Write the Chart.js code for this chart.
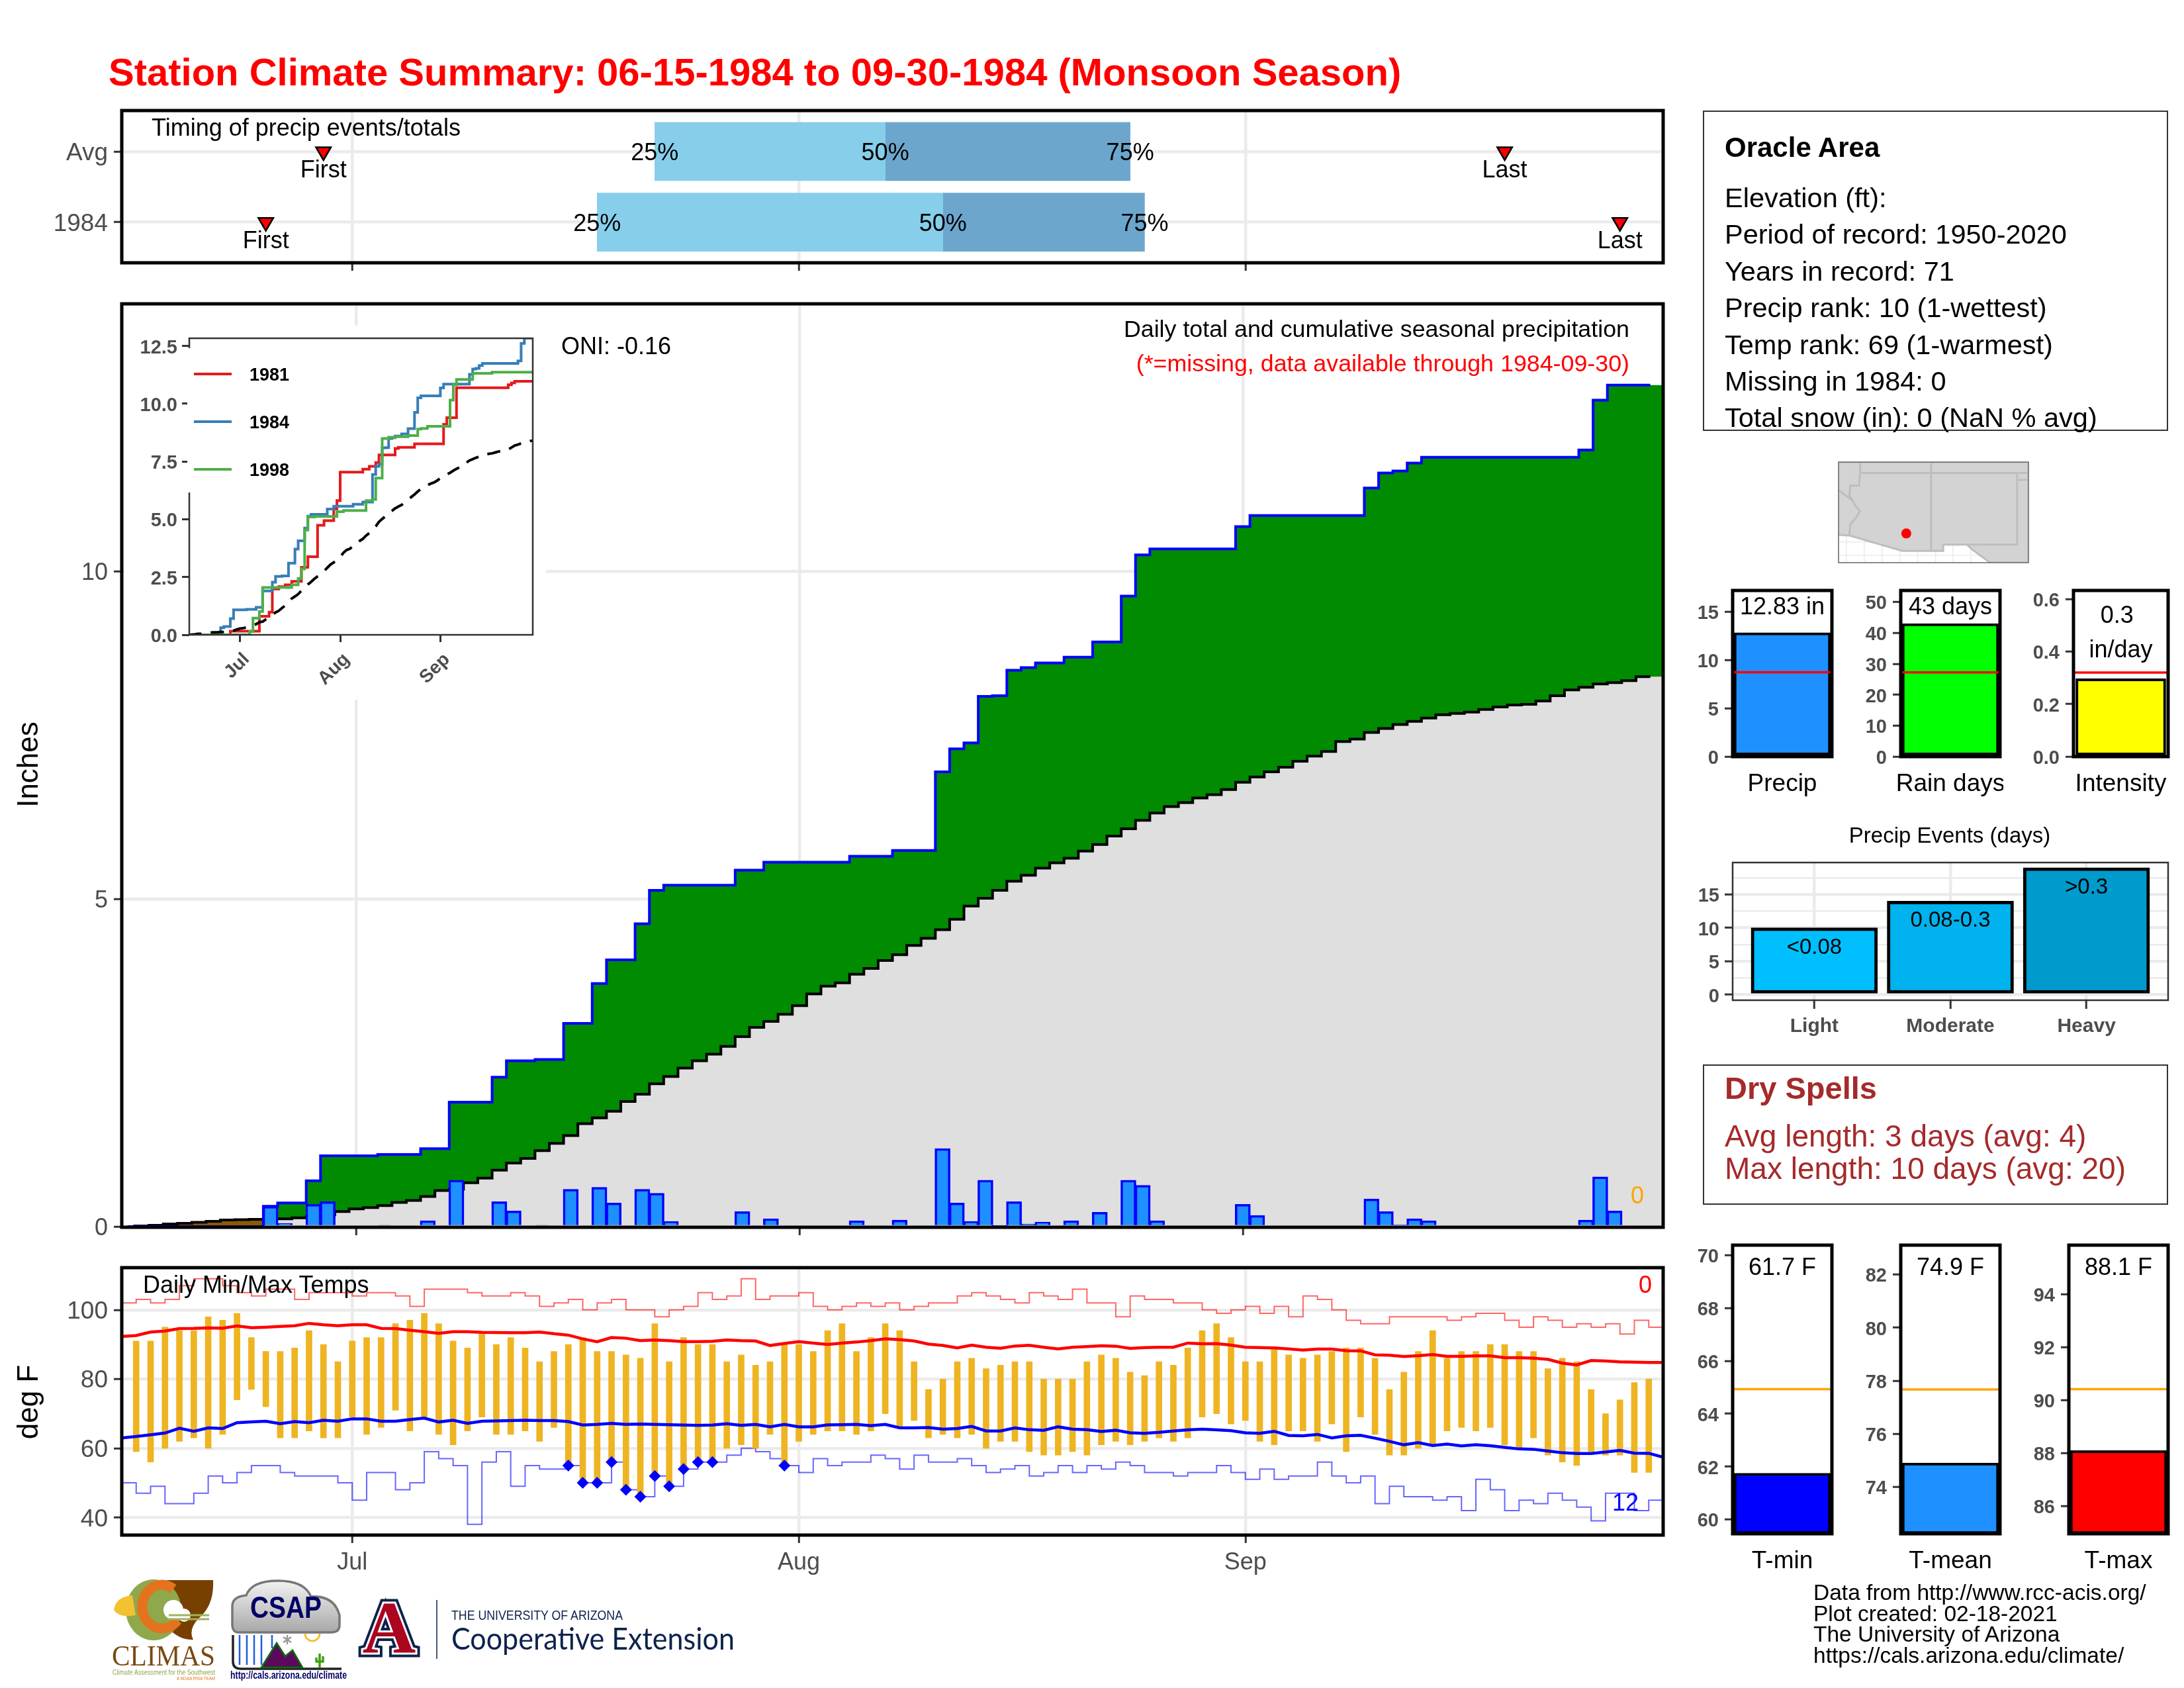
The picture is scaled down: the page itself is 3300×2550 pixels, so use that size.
<!DOCTYPE html>
<html>
<head>
<meta charset="utf-8">
<title>Station Climate Summary</title>
<script src="https://cdn.jsdelivr.net/npm/chart.js@4"></script>
<style>
  html, body { margin: 0; padding: 0; background: #fff; }
  #page { position: relative; width: 3300px; height: 2550px; overflow: hidden; font-family: 'Liberation Sans', Arial, sans-serif; }
  canvas { position: absolute; }
  .txt { position: absolute; white-space: nowrap; z-index: 3; line-height: 1; }
  .box { position: absolute; border: 2.5px solid #333; box-sizing: border-box; }
  svg { position: absolute; left: 0; top: 0; z-index: 2; }
</style>
</head>
<body>
<div id="page">
<svg width="3300" height="2550" font-family="Liberation Sans">
  <defs><linearGradient id="cloud" x1="0" y1="0" x2="0" y2="1"><stop offset="0" stop-color="#f2f2f2"/><stop offset="1" stop-color="#a8a8a8"/></linearGradient></defs>
  <!-- CLIMAS -->
  <path d="M252 2387 L322 2387 Q324 2425 300 2445 Q284 2462 292 2477 Q262 2478 240 2440 Z" fill="#774000"/>
  <ellipse cx="232" cy="2432" rx="42" ry="46" fill="#8FA84C"/>
  <path d="M172 2432 Q175 2412 200 2410 L205 2440 Q180 2445 172 2432 Z" fill="#F2C230"/>
  <path d="M262 2400 A30 33 0 1 0 268 2448" fill="none" stroke="#E3731E" stroke-width="15"/>
  <circle cx="262" cy="2432" r="15" fill="#fff"/><circle cx="278" cy="2440" r="10" fill="#fff"/>
  <path d="M255 2440 H316 M255 2446 H316" stroke="#9DB35E" stroke-width="3"/>
  <text x="169" y="2516" font-family="Liberation Serif" font-size="44" fill="#7A4A12" textLength="156" lengthAdjust="spacingAndGlyphs">CLIMAS</text>
  <text x="170" y="2530" font-size="11" fill="#8FA84C" textLength="155" lengthAdjust="spacingAndGlyphs">Climate Assessment for the Southwest</text>
  <text x="267" y="2538" font-size="8" fill="#E3731E" textLength="58" lengthAdjust="spacingAndGlyphs">A NOAA RISA TEAM</text>
  <!-- CSAP -->
  <path d="M360 2466 Q350 2466 351 2450 L351 2425 Q352 2412 372 2410 Q380 2388 420 2388 Q460 2388 470 2412 Q505 2410 513 2440 L513 2455 Q513 2466 500 2466 Z" fill="url(#cloud)" stroke="#777" stroke-width="3.5"/>
  <text x="432" y="2444" text-anchor="middle" font-weight="bold" font-size="46" fill="#000066" textLength="108" lengthAdjust="spacingAndGlyphs">CSAP</text>
  <path d="M362 2470 V2515 M373 2470 V2515 M384 2470 V2515 M395 2470 V2515 M411 2470 V2490" stroke="#1E5BE0" stroke-width="2.5"/>
  <path d="M352 2470 V2510 Q352 2521 364 2521 H516" fill="none" stroke="#222" stroke-width="3.5"/>
  <path d="M395 2519 L418 2482 L431 2502 L442 2493 L457 2519 Z" fill="#5B0A5B" stroke="#0A6E0A" stroke-width="2.5"/>
  <path d="M461 2468 A11 11 0 0 0 483 2468" fill="none" stroke="#F2C230" stroke-width="3"/>
  <path d="M434 2470 V2484 M428 2473 L440 2481 M440 2473 L428 2481" stroke="#999" stroke-width="2.5"/>
  <path d="M483 2498 V2519 M478 2504 V2510 H488 V2502" fill="none" stroke="#3DA010" stroke-width="3.5"/>
  <text x="348" y="2536" font-weight="bold" font-size="16" fill="#000066" textLength="176" lengthAdjust="spacingAndGlyphs">http://cals.arizona.edu/climate</text>
  <!-- Arizona -->
  <text x="588" y="2497" text-anchor="middle" font-family="Liberation Serif" font-weight="bold" font-size="112" fill="#0C234B" stroke="#0C234B" stroke-width="14">A</text>
  <text x="588" y="2497" text-anchor="middle" font-family="Liberation Serif" font-weight="bold" font-size="112" fill="#fff" stroke="#fff" stroke-width="6">A</text>
  <text x="588" y="2497" text-anchor="middle" font-family="Liberation Serif" font-weight="bold" font-size="112" fill="#AB0520">A</text>
  <path d="M660 2417 V2506" stroke="#0C234B" stroke-width="1.5"/>
  <text x="682" y="2447" font-size="20" fill="#0C234B" textLength="259" lengthAdjust="spacingAndGlyphs">THE UNIVERSITY OF ARIZONA</text>
  <text x="682" y="2492" font-family="Lato" font-size="46" fill="#0C234B" textLength="428" lengthAdjust="spacingAndGlyphs">Cooperative Extension</text>
</svg>
</div>
<script>
// day numbers: 0 is Jul 1, -16 is Jun 15, 90 is Sep 29
const monthDays = [0, 31, 62]
const monthNames = ['Jul', 'Aug', 'Sep']

const dailyPrecip = [
  0,0,0,0,0,0,0,0,0,0,
  .31,.05,0,.34,.38,0,0,0,.02,0,
  0,.09,0,.71,0,0,.38,.24,0,.02,
  0,.57,0,.60,.36,0,.57,.51,.08,0,
  0,0,0,.23,0,.12,0,0,0,0,
  0,.09,0,0,.10,0,0,1.19,.36,.08,
  .71,.01,.38,.04,.07,0,.09,0,.22,0,
  .71,.63,.09,0,0,0,0,0,.34,.17,
  0,0,0,0,0,0,0,.42,.23,.03,
  .12,.09,0,0,0,0,0,0,0,0,
  0,0,.10,.76,.24,0,0
]
const cumPrecip = [
  0,0,0,0,0,0,0,0,0,0,
  .31,.36,.36,.70,1.08,1.08,1.08,1.08,1.10,1.10,
  1.10,1.19,1.19,1.90,1.90,1.90,2.28,2.53,2.53,2.55,
  2.55,3.10,3.10,3.71,4.07,4.07,4.62,5.13,5.21,5.21,
  5.21,5.21,5.21,5.44,5.44,5.56,5.56,5.56,5.56,5.56,
  5.56,5.65,5.65,5.65,5.74,5.74,5.74,6.94,7.29,7.38,
  8.09,8.10,8.49,8.53,8.60,8.60,8.69,8.69,8.92,8.92,
  9.62,10.25,10.34,10.34,10.34,10.34,10.34,10.34,10.68,10.85,
  10.85,10.85,10.85,10.85,10.85,10.85,10.85,11.27,11.50,11.53,
  11.65,11.74,11.74,11.74,11.74,11.74,11.74,11.74,11.74,11.74,
  11.74,11.74,11.85,12.61,12.84,12.84,12.84
]
const avgPrecip = [
  0,.01,.02,.04,.05,.065,.08,.10,.107,.11,
  .12,.12,.135,.15,.18,.23,.27,.29,.32,.37,
  .40,.46,.55,.57,.67,.74,.86,.97,1.04,1.16,
  1.27,1.39,1.57,1.66,1.76,1.91,2.02,2.18,2.29,2.42,
  2.53,2.63,2.75,2.90,3.04,3.13,3.24,3.37,3.55,3.67,
  3.72,3.85,3.94,4.06,4.15,4.29,4.40,4.53,4.69,4.89,
  5.01,5.13,5.27,5.36,5.47,5.55,5.62,5.73,5.83,5.96,
  6.07,6.20,6.31,6.41,6.47,6.54,6.59,6.67,6.78,6.86,
  6.94,7.01,7.10,7.18,7.25,7.40,7.44,7.54,7.60,7.66,
  7.71,7.76,7.81,7.83,7.85,7.89,7.93,7.96,7.97,8.02,
  8.10,8.19,8.23,8.28,8.30,8.33,8.39
]

// inset, only the days where the total changes
const days1981 = [-16,-3,6,9,10,12,14,16,19,21,24,26,29,30,31,38,40,42,43,48,49,54,63,64,67,83,84,85,91]
const vals1981 = [0,.16,.8,.98,1.98,2.08,2.165,2.31,2.92,3.38,4.74,4.94,5.45,5.81,7.04,7.17,7.29,7.45,7.78,8.06,8.11,8.26,9.11,9.39,10.69,10.82,10.9,10.97,10.97]
const days1998 = [-16,3,4,6,7,16,18,19,20,21,23,30,32,39,41,42,44,46,48,52,55,56,58,65,66,67,72,78,91]
const vals1998 = [0,.14,.72,1.01,2.05,2.165,2.44,2.85,4.53,5.10,5.12,5.33,5.38,5.81,5.86,6.78,8.49,8.55,8.57,8.62,8.90,8.93,9.02,10.15,10.82,11.05,11.31,11.36,11.36]
const insetTicks = [0, 2.5, 5, 7.5, 10, 12.5]
const insetYears = ['1981', '1984', '1998']
const insetColors = ['#E41A1C', '#377EB8', '#4DAF4A']

const tempHigh = [
  null,91,91,95,94,94,98,97,99,92,
  88,88,89,94,90,85,91,92,92,96,
  97,99,96,91,89,93,90,92,89,85,
  88,90,92,88,88,87,86,96,85,92,
  90,90,85,87,84,85,90,90,88,94,
  96,88,92,96,94,85,77,80,85,86,
  83,84,85,85,80,80,80,85,87,86,
  82,81,85,84,89,94,96,92,85,85,
  89,87,86,87,88,89,89,86,77,82,
  88,94,86,88,88,90,90,88,88,83,
  86,85,77,70,74,79,80
]
const tempLow = [
  null,59,56,60,62,63,60,64,74,77,
  72,63,63,65,63,63,69,64,66,71,
  65,69,64,61,65,69,64,64,65,62,
  66,55,50,50,56,48,46,52,49,54,
  56,56,60,61,60,64,55,62,64,65,
  65,64,65,70,66,68,63,64,63,64,
  60,62,62,59,58,58,59,58,61,62,
  61,62,63,62,63,69,70,67,68,62,
  61,65,65,62,67,59,69,64,58,58,
  60,61,65,66,65,66,61,60,63,58,
  56,55,59,58,58,53,53
]
const recordMax = [
  102,103,102,103,107,109,109,107,105,104,
  106,106,103,105,105,105,104,105,105,104,
  101,106,106,106,105,104,104,105,104,101,
  102,103,100,102,103,100,100,98,100,101,
  105,103,104,109,103,104,104,105,101,100,
  101,102,101,102,100,101,102,102,104,105,
  104,103,102,105,104,103,106,102,102,98,
  104,103,103,102,102,100,99,100,101,99,
  101,98,104,103,100,97,96,96,98,98,
  98,98,97,98,99,99,97,95,98,97,
  95,96,95,96,93,97,95
]
const recordMin = [
  50,47,49,44,44,47,52,50,53,55,
  55,53,52,52,52,50,45,53,53,48,
  50,59,57,55,38,56,59,49,55,54,
  54,55,50,50,56,48,46,52,49,54,
  56,56,58,60,59,57,55,53,57,55,
  56,56,58,57,54,58,56,56,57,55,
  53,54,55,52,53,55,53,55,54,56,
  55,53,53,52,53,53,55,53,51,54,
  51,52,52,56,52,50,52,44,49,46,
  46,45,46,42,51,48,42,45,44,47,
  45,43,39,47,47,42,45
]
const avgMax = [
  92.3,92.6,93.6,93.9,94.6,94.65,94.8,94.7,95.35,94.85,
  95,95.2,95.4,96.1,95.7,95.4,95.7,95.7,94.65,94.6,
  94.1,93.7,93.2,93.7,93.7,93.5,93.45,93.4,93.4,93.6,
  93.1,92.7,91.6,90.8,92,91.8,91.1,91.3,91.1,90.8,
  90.8,90.9,91.3,91.1,91,89.7,90.3,90.8,90.4,90,
  90.4,90.7,91.1,91.65,91.4,91,90.1,89.7,89,89.8,
  89.2,88.9,89.55,89.75,89.2,88.7,89.2,89.4,89.6,89.5,
  88.85,89.1,89.2,89.2,90.4,90.2,90.25,89.8,89.2,89.1,
  89,88.7,88.4,88.65,88.65,88.2,88.15,87,86.9,86.5,
  86.75,87.1,86.55,86.55,86.7,86.7,86.2,86.2,86.05,85.7,
  84.6,84.1,85.35,85.2,85,84.9,84.8,84.8
]
const avgMin = [
  63,63.4,63.9,64.4,65.8,64.9,65.9,65.7,67.4,67.6,
  67.8,67.1,67.7,67.4,68.1,67.8,68.5,68.5,67.8,67.8,
  68.3,68.7,67.6,68.1,67.2,67.8,67.9,68,68.1,68,
  68,67.7,66.7,66.9,67.2,66.9,67,66.9,66.8,66.7,
  66.6,66.7,67.1,66.6,66.9,66.2,66.9,66.2,66.2,66.75,
  66.8,66.9,66.5,66.9,65.9,65.9,66,65.5,65.7,66.3,
  65,65,65.9,65.35,65.2,66.2,65.5,65.35,64.85,65.2,
  64.45,64.3,64.6,65,65.3,65.5,65.3,65.1,64.45,64.3,
  64.9,63.7,63.6,64,63,63.6,63.75,62.9,62,61,
  61.65,60.8,61.2,60.7,61,60.75,60.25,59.8,59.7,59.2,
  58.7,58.5,58.5,58.9,59.4,58.6,58.55,57.4
]
const recordLowDays = [15,16,17,18,19,20,21,22,23,24,25,30]
const recordLowVals = [55,50,50,56,48,46,52,49,54,56,56,55]
const tempTicks = [40, 60, 80, 100]

// timing of events, top row first
const timingRows = ['Avg', '1984']
const timingRowPos = [2, 1]
const timingFirst = [-2, -6]
const timingQ25 = [21, 17]
const timingQ50 = [37, 41]
const timingQ75 = [54, 55]
const timingLast = [80, 88]

const eventNames = ['Light', 'Moderate', 'Heavy']
const eventDays = [10, 14, 19]
const eventRanges = ['<0.08', '0.08-0.3', '>0.3']
const eventColors = ['#00BFFF', '#00B2EE', '#009ACD']
const eventTicks = [0, 2.5, 5, 7.5, 10, 12.5, 15, 17.5]

const infoLines = ['Elevation (ft):', 'Period of record: 1950-2020', 'Years in record: 71', 'Precip rank: 10 (1-wettest)', 'Temp rank: 69 (1-warmest)', 'Missing in 1984: 0', 'Total snow (in): 0 (NaN % avg)']
const footerLines = ['Data from http://www.rcc-acis.org/', 'Plot created: 02-18-2021', 'The University of Arizona', 'https://cals.arizona.edu/climate/']

// map, lon and lat
const landLon = [-115.57,-114.8,-111.07,-109.05,-108.2,-108.2,-106.53,-106.2,-105.6,-104.9,-102.2,-102.2,-115.57]
const landLat = [32.5,32.45,31.33,31.33,31.33,31.78,31.78,31.46,31.0,30.47,30.47,37.8,37.8]
const azWestLon = [-114.05,-114.05,-114.13,-114.74,-114.81,-114.58,-114.35,-114.06,-114.35,-114.74,-114.81]
const azWestLat = [37.8,37,36.09,36.09,35.37,34.98,34.55,34.23,33.74,33.25,32.45]
const nvLon = [-115.57,-114.58]
const nvLat = [35.76,34.98]
const north37Lon = [-114.05,-102.2]
const north37Lat = [37,37]
const panLon = [-103,-102.2]
const panLat = [36.5,36.5]
const azNmLon = [-109.05,-109.05]
const azNmLat = [37.8,31.33]
const nmTxLon = [-103,-103,-106.53]
const nmTxLat = [37,31.78,31.78]
const stationLon = [-110.8]
const stationLat = [32.6]

const GRID = '#EBEBEB'
const TICK = '#333333'
const LABEL = '#4D4D4D'
const FONT = "'Liberation Sans', Arial, sans-serif"

Chart.defaults.font.family = FONT
Chart.defaults.plugins.legend.display = false
Chart.defaults.plugins.tooltip.enabled = false

const page = document.getElementById('page')

function txt(text, x, y, size, o = {}) {
  const el = document.createElement('span')
  el.className = 'txt'
  el.textContent = text
  el.style.left = x + 'px'
  el.style.top = y + 'px'
  el.style.fontSize = size + 'px'
  el.style.color = o.color || '#000'
  if (o.bold) el.style.fontWeight = 'bold'
  const dx = o.align === 'right' ? '-100%' : o.align === 'center' ? '-50%' : '0'
  el.style.transform = `translate(${dx},-50%)` + (o.rot ? ` rotate(${o.rot}deg)` : '')
  page.appendChild(el)
}

function box(l, t, r, b) {
  const el = document.createElement('div')
  el.className = 'box'
  el.style.cssText = `left:${l}px;top:${t}px;width:${r - l}px;height:${b - t}px`
  page.appendChild(el)
}

const tickAt = vals => s => { s.ticks = vals.map(value => ({ value })) }

// border around the plot area
const frame = (color, width) => ({
  id: 'frame',
  afterDraw(chart) {
    const a = chart.chartArea, c = chart.ctx
    c.save()
    c.strokeStyle = color
    c.lineWidth = width
    c.strokeRect(a.left, a.top, a.right - a.left, a.bottom - a.top)
    c.restore()
  }
})

// text placed with the chart's scales, dx/dy are small pixel nudges
const notes = items => ({
  id: 'notes',
  afterDatasetsDraw(chart) {
    const c = chart.ctx
    c.save()
    c.textBaseline = 'middle'
    items.forEach(n => {
      c.font = n.font || `36px ${FONT}`
      c.fillStyle = n.color || '#000'
      c.textAlign = n.align || 'center'
      c.fillText(n.text, chart.scales.x.getPixelForValue(n.x) + (n.dx || 0), chart.scales.y.getPixelForValue(n.y) + (n.dy === undefined ? 3 : n.dy))
    })
    c.restore()
  }
})

// makes a canvas so that the plot area lands exactly on rect
function plot(rect, m, config) {
  const cv = document.createElement('canvas')
  cv.width = rect.r - rect.l + m.l + m.r
  cv.height = rect.b - rect.t + m.t + m.b
  cv.style.cssText = `left:${rect.l - m.l}px;top:${rect.t - m.t}px;width:${cv.width}px;height:${cv.height}px` + (m.bg ? `;background:${m.bg}` : '')
  page.appendChild(cv)
  const o = config.options = config.options || {}
  o.responsive = false
  o.animation = false
  o.events = []
  o.devicePixelRatio = 1
  o.layout = { autoPadding: false, padding: { top: m.t, right: m.r, left: 0, bottom: 0 } }
  o.scales.x.afterFit = s => { s.height = m.b; s.paddingLeft = 0; s.paddingRight = 0 }
  o.scales.y.afterFit = s => { s.width = m.l; s.paddingTop = 0; s.paddingBottom = 0 }
  return new Chart(cv, config)
}

const monthAxis = (min, max, showLabels) => ({
  type: 'linear', min, max, offset: false,
  afterBuildTicks: tickAt(monthDays),
  border: { display: false },
  grid: { color: GRID, lineWidth: 4.5, offset: false, tickLength: 12, tickColor: TICK, tickWidth: 3 },
  ticks: { display: showLabels, autoSkip: false, maxRotation: 0, padding: 8, color: LABEL, font: { size: 36 }, callback: v => monthNames[monthDays.indexOf(v)] }
})

const valueAxis = (min, max, vals, size, bold, labelFn, inside = true) => ({
  type: 'linear', min, max, offset: false,
  afterBuildTicks: tickAt(vals),
  border: { display: false },
  grid: { color: GRID, lineWidth: 4.5, offset: false, drawOnChartArea: inside, tickLength: 12, tickColor: TICK, tickWidth: 3 },
  ticks: { autoSkip: false, maxRotation: 0, padding: 9, labelOffset: 3, color: LABEL, font: { size, weight: bold ? 'bold' : 'normal' }, callback: labelFn || (v => v) }
})

const dayOf = i => i - 16
const xy = vals => vals.map((y, i) => ({ x: dayOf(i), y }))
const withEnd = (pts, endX) => pts.concat([{ x: endX, y: pts[pts.length - 1].y }])
const pairs = (xs, ys) => xs.map((x, i) => ({ x, y: ys[i] }))

// ---------- timing
plot({ l: 184, t: 167, r: 2513, b: 397 }, { l: 184, t: 4, r: 5, b: 20 }, {
  type: 'bar',
  data: {
    datasets: [
      { type: 'scatter', data: pairs(timingFirst.concat(timingLast), timingRowPos.concat(timingRowPos)), pointStyle: 'triangle', rotation: 180, radius: 13, backgroundColor: '#FF0000', borderColor: '#000', borderWidth: 2.5 },
      { indexAxis: 'y', grouped: false, barThickness: 88, backgroundColor: '#87CEEB', data: timingRowPos.map((y, i) => ({ x: [timingQ25[i], timingQ50[i]], y })) },
      { indexAxis: 'y', grouped: false, barThickness: 88, backgroundColor: '#6CA6CD', data: timingRowPos.map((y, i) => ({ x: [timingQ50[i], timingQ75[i]], y })) }
    ]
  },
  options: {
    scales: {
      x: monthAxis(-16, 91, false),
      y: valueAxis(.425, 2.58, timingRowPos, 37, false, v => timingRows[timingRowPos.indexOf(v)])
    }
  },
  plugins: [frame('#000', 5), notes([].concat(
    ...timingRowPos.map((y, i) => [
      { x: timingFirst[i], y, dy: 29, text: 'First' },
      { x: timingLast[i], y, dy: 29, text: 'Last' },
      { x: timingQ25[i], y, text: '25%' },
      { x: timingQ50[i], y, text: '50%' },
      { x: timingQ75[i], y, text: '75%' }
    ])
  ))]
})

// ---------- daily and cumulative precip
const endX = 91.4
plot({ l: 184, t: 459, r: 2513, b: 1854 }, { l: 184, t: 4, r: 5, b: 20 }, {
  type: 'bar',
  data: {
    datasets: [
      { barThickness: 23, borderWidth: 3.5, borderColor: '#0000FF', backgroundColor: '#1E90FF', data: xy(dailyPrecip).filter(p => p.y > 0) },
      { type: 'line', stepped: 'middle', pointRadius: 0, borderWidth: 4, borderColor: '#0000FF', data: withEnd(xy(cumPrecip), 90.5) },
      { type: 'line', stepped: 'middle', pointRadius: 0, borderWidth: 4, borderColor: '#000', data: withEnd(xy(avgPrecip), 90.5) },
      { type: 'line', stepped: 'middle', pointRadius: 0, borderWidth: 0, fill: { target: 4, above: '#008B00', below: '#8B5A00' }, data: withEnd(xy(cumPrecip), endX) },
      { type: 'line', stepped: 'middle', pointRadius: 0, borderWidth: 0, fill: 'origin', backgroundColor: '#DFDFDF', data: withEnd(xy(avgPrecip), endX) }
    ]
  },
  options: {
    scales: {
      x: monthAxis(-16.4, 91.4, false),
      y: valueAxis(-.01, 14.08, [0, 5, 10], 36)
    }
  },
  plugins: [frame('#000', 5)]
})

// ---------- inset with the analog years
const insetLegend = {
  id: 'insetLegend',
  afterDraw(chart) {
    const a = chart.chartArea, c = chart.ctx
    c.save()
    c.fillStyle = '#fff'
    c.fillRect(a.left - 3, a.top + 15, 86, 218)
    c.font = `bold 27px ${FONT}`
    c.textBaseline = 'middle'
    insetYears.forEach((year, i) => {
      const y = a.top + 54 + i * 72
      c.strokeStyle = insetColors[i]
      c.lineWidth = 4
      c.beginPath()
      c.moveTo(a.left + 7, y)
      c.lineTo(a.left + 64, y)
      c.stroke()
      c.fillStyle = '#000'
      c.fillText(year, a.left + 91, y + 3)
    })
    c.restore()
  }
}
plot({ l: 286, t: 511, r: 805, b: 959 }, { l: 98, t: 19, r: 20, b: 98, bg: '#fff' }, {
  type: 'line',
  data: {
    datasets: [
      { data: withEnd(xy(avgPrecip), 91), borderColor: '#000', borderWidth: 4, borderDash: [20, 14], pointRadius: 0 },
      { data: pairs(days1998, vals1998), stepped: true, borderColor: insetColors[2], borderWidth: 4, pointRadius: 0 },
      { data: withEnd(xy(cumPrecip), 91), stepped: true, borderColor: insetColors[1], borderWidth: 4, pointRadius: 0 },
      { data: pairs(days1981, vals1981), stepped: true, borderColor: insetColors[0], borderWidth: 4, pointRadius: 0 }
    ]
  },
  options: {
    scales: {
      x: {
        type: 'linear', min: -15.7, max: 90.6,
        afterBuildTicks: tickAt(monthDays),
        border: { display: false },
        grid: { drawOnChartArea: false, tickLength: 11, tickColor: TICK, tickWidth: 3 },
        ticks: { autoSkip: false, minRotation: 45, maxRotation: 45, padding: 10, labelOffset: 10, color: LABEL, font: { size: 28, weight: 'bold' }, callback: v => monthNames[monthDays.indexOf(v)] }
      },
      y: {
        type: 'linear', min: 0, max: 12.83,
        afterBuildTicks: tickAt(insetTicks),
        border: { display: false },
        grid: { drawOnChartArea: false, tickLength: 11, tickColor: TICK, tickWidth: 3 },
        ticks: { autoSkip: false, maxRotation: 0, padding: 7, labelOffset: 3, color: LABEL, font: { size: 29, weight: 'bold' }, callback: v => v.toFixed(1) }
      }
    }
  },
  plugins: [frame('#333', 2.5), insetLegend]
})

// ---------- daily temps
plot({ l: 184, t: 1915, r: 2513, b: 2319 }, { l: 184, t: 4, r: 5, b: 70 }, {
  type: 'bar',
  data: {
    datasets: [
      { type: 'scatter', data: pairs(recordLowDays, recordLowVals), pointStyle: 'rectRot', radius: 9, backgroundColor: '#0000FF', borderWidth: 0 },
      { type: 'line', data: xy(avgMax), borderColor: '#FF0000', borderWidth: 4.5, pointRadius: 0 },
      { type: 'line', data: xy(avgMin), borderColor: '#0000FF', borderWidth: 4.5, pointRadius: 0 },
      { barThickness: 9, backgroundColor: '#EEB422', data: tempHigh.map((hi, i) => ({ x: dayOf(i), y: hi === null ? null : [tempLow[i], hi] })) },
      { type: 'line', stepped: true, data: withEnd(xy(recordMax), 91), borderColor: 'rgba(255,0,0,.6)', borderWidth: 2, pointRadius: 0 },
      { type: 'line', stepped: true, data: withEnd(xy(recordMin), 91), borderColor: 'rgba(0,0,255,.6)', borderWidth: 2, pointRadius: 0 }
    ]
  },
  options: {
    scales: {
      x: monthAxis(-16, 91, true),
      y: valueAxis(34.9, 112.2, tempTicks, 37)
    }
  },
  plugins: [frame('#000', 5)]
})

// ---------- small summary bars
function summaryBar(rect, o) {
  plot(rect, { l: 80, t: 4, r: 5, b: 60 }, {
    type: 'bar',
    data: {
      datasets: [
        { type: 'line', data: [{ x: 0, y: o.avg }, { x: 1, y: o.avg }], borderColor: o.avgColor, borderWidth: 3.5, pointRadius: 0 },
        { barThickness: o.width || 146, borderWidth: 4, borderColor: '#000', borderSkipped: false, backgroundColor: o.color, data: [{ x: .5, y: [o.min, o.value] }] }
      ]
    },
    options: {
      scales: {
        x: {
          type: 'linear', min: 0, max: 1, offset: false,
          afterBuildTicks: tickAt([.5]),
          border: { display: false },
          grid: { display: false, drawTicks: false, offset: false },
          ticks: { autoSkip: false, maxRotation: 0, padding: 20, color: '#000', font: { size: 37 }, callback: () => o.label }
        },
        y: valueAxis(o.min, o.max, o.ticks, 29, true, o.fmt, false)
      }
    },
    plugins: [frame('#000', 5), notes(o.notes)]
  })
}
const summaries = [
  { rect: { l: 2618, t: 892, r: 2768, b: 1143 }, label: 'Precip', value: 12.83, avg: 8.73, color: '#1E90FF', avgColor: '#FF0000', min: 0, max: 17.2, ticks: [0, 5, 10, 15],
    notes: [{ x: .5, y: 15.65, text: '12.83 in' }] },
  { rect: { l: 2872, t: 892, r: 3022, b: 1143 }, label: 'Rain days', value: 43, avg: 27.2, color: '#00FF00', avgColor: '#FF0000', min: 0, max: 53.7, ticks: [0, 10, 20, 30, 40, 50],
    notes: [{ x: .5, y: 48.7, text: '43 days' }] },
  { rect: { l: 3133, t: 892, r: 3276, b: 1143 }, label: 'Intensity', value: .2965, avg: .32, color: '#FFFF00', avgColor: '#FF0000', min: 0, max: .633, ticks: [0, .2, .4, .6], width: 136, fmt: v => v.toFixed(1),
    notes: [{ x: .46, y: .543, text: '0.3' }, { x: .5, y: .41, text: 'in/day' }] },
  { rect: { l: 2618, t: 1881, r: 2768, b: 2317 }, label: 'T-min', value: 61.75, avg: 64.93, color: '#0000FF', avgColor: '#FFA500', min: 59.46, max: 70.375, ticks: [60, 62, 64, 66, 68, 70],
    notes: [{ x: .5, y: 69.57, text: '61.7 F' }] },
  { rect: { l: 2872, t: 1881, r: 3022, b: 2317 }, label: 'T-mean', value: 74.9, avg: 77.67, color: '#1E90FF', avgColor: '#FFA500', min: 72.23, max: 83.11, ticks: [74, 76, 78, 80, 82],
    notes: [{ x: .5, y: 82.31, text: '74.9 F' }] },
  { rect: { l: 3126, t: 1881, r: 3276, b: 2317 }, label: 'T-max', value: 88.1, avg: 90.42, color: '#FF0000', avgColor: '#FFA500', min: 84.96, max: 95.86, ticks: [86, 88, 90, 92, 94],
    notes: [{ x: .5, y: 95.06, text: '88.1 F' }] }
]
summaries.forEach(s => summaryBar(s.rect, s))

// ---------- precip events
plot({ l: 2618, t: 1303, r: 3276, b: 1511 }, { l: 80, t: 4, r: 5, b: 60 }, {
  type: 'bar',
  data: {
    datasets: [{
      barThickness: 191, borderWidth: 5, borderColor: '#000', borderSkipped: false,
      backgroundColor: eventColors, data: eventDays.map((y, i) => ({ x: i + 1, y }))
    }]
  },
  options: {
    scales: {
      x: {
        type: 'linear', min: .4, max: 3.6, offset: false,
        afterBuildTicks: tickAt([1, 2, 3]),
        border: { display: false },
        grid: { color: GRID, lineWidth: 4.5, offset: false, tickLength: 13, tickColor: TICK, tickWidth: 3 },
        ticks: { autoSkip: false, maxRotation: 0, padding: 9, color: LABEL, font: { size: 30, weight: 'bold' }, callback: v => eventNames[v - 1] }
      },
      y: {
        type: 'linear', min: -.82, max: 19.77,
        afterBuildTicks: tickAt(eventTicks),
        border: { display: false },
        grid: { color: GRID, lineWidth: c => (c.tick.value % 5 ? 2.5 : 4.5), tickLength: 12, tickColor: c => (c.tick.value % 5 ? 'transparent' : TICK), tickWidth: 3 },
        ticks: { autoSkip: false, maxRotation: 0, padding: 8, labelOffset: 3, color: LABEL, font: { size: 29, weight: 'bold' }, callback: v => (v % 5 ? '' : v) }
      }
    }
  },
  plugins: [frame('#333', 2.5), notes(eventDays.map((y, i) => ({ x: i + 1, y, dy: 30, text: eventRanges[i], font: `33px ${FONT}` })))]
})

// ---------- locator map
const borderLine = (xs, ys) => ({ data: pairs(xs, ys), showLine: true, borderColor: '#BEBEBE', borderWidth: 3, pointRadius: 0 })
plot({ l: 2778, t: 698, r: 3065, b: 850 }, { l: 1, t: 1, r: 1, b: 1 }, {
  type: 'scatter',
  data: {
    datasets: [
      { data: pairs(stationLon, stationLat), pointRadius: 7.5, backgroundColor: '#FF0000', borderWidth: 0 },
      borderLine(azWestLon, azWestLat), borderLine(nvLon, nvLat), borderLine(north37Lon, north37Lat),
      borderLine(panLon, panLat), borderLine(azNmLon, azNmLat), borderLine(nmTxLon, nmTxLat),
      { data: pairs(landLon, landLat), showLine: true, fill: 'shape', backgroundColor: '#D3D3D3', borderColor: '#BEBEBE', borderWidth: 3, pointRadius: 0 }
    ]
  },
  options: {
    scales: {
      x: { type: 'linear', min: -115.57, max: -102.2, afterBuildTicks: tickAt([-115, -113.75, -112.5, -111.25, -110, -108.75, -107.5, -106.25, -105, -103.75]), border: { display: false }, grid: { color: GRID, lineWidth: 1.5, drawTicks: false }, ticks: { display: false } },
      y: { type: 'linear', min: 30.47, max: 37.8, afterBuildTicks: tickAt([31, 32]), border: { display: false }, grid: { color: GRID, lineWidth: 1.5, drawTicks: false }, ticks: { display: false } }
    }
  },
  plugins: [frame('#666', 1.5)]
})

// ---------- text outside the plots
txt('Station Climate Summary: 06-15-1984 to 09-30-1984 (Monsoon Season)', 164, 109, 58, { bold: true, color: '#FF0000' })
txt('Timing of precip events/totals', 229, 193, 36)
txt('ONI: -0.16', 848, 523, 36)
txt('Daily total and cumulative seasonal precipitation', 2462, 498, 35.8, { align: 'right' })
txt('(*=missing, data available through 1984-09-30)', 2462, 550, 35.8, { align: 'right', color: '#FF0000' })
txt('0', 2474, 1806, 36, { align: 'center', color: '#FFA500' })
txt('Daily Min/Max Temps', 216, 1941, 36)
txt('0', 2486, 1941, 36, { align: 'center', color: '#FF0000' })
txt('12', 2456, 2270, 36, { align: 'center', color: '#0000FF' })
txt('Inches', 42, 1155, 44, { align: 'center', rot: -90 })
txt('deg F', 42, 2118, 44, { align: 'center', rot: -90 })

box(2573, 167, 3276, 651)
txt('Oracle Area', 2606, 223, 42, { bold: true })
infoLines.forEach((line, i) => txt(line, 2606, 299 + i * 55.4, 41.5))

txt('Precip Events (days)', 2946, 1261, 33, { align: 'center' })

box(2573, 1608, 3276, 1820)
txt('Dry Spells', 2606, 1643, 47, { bold: true, color: '#A52A2A' })
txt('Avg length: 3 days (avg: 4)', 2606, 1716, 46, { color: '#A52A2A' })
txt('Max length: 10 days (avg: 20)', 2606, 1765, 46, { color: '#A52A2A' })

footerLines.forEach((line, i) => txt(line, 2740, 2406 + i * 31.6, 33.5))
</script>
</body>
</html>
